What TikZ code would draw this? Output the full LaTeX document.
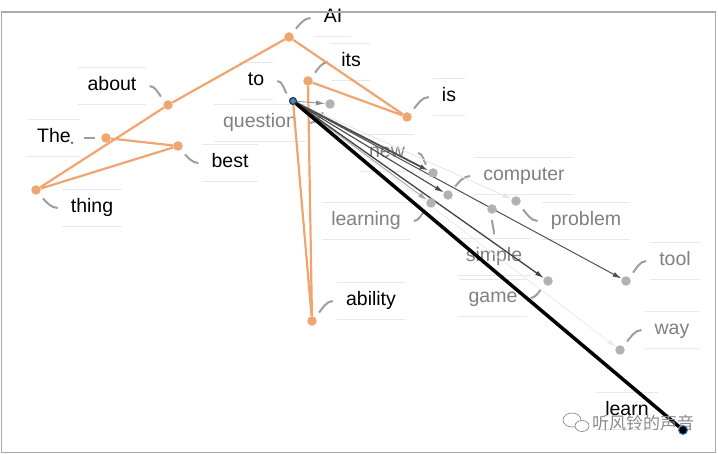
\documentclass[tikz,border=0pt]{standalone}
\usepackage{fontspec}
\setmainfont{Liberation Sans}
\newfontfamily\cjkfont{Noto Sans CJK SC}
\usepackage{tikz}
\usetikzlibrary{arrows.meta}
\definecolor{pathorange}{RGB}{240,165,112}
\definecolor{dotblue}{RGB}{66,133,190}
\pgfdeclarelayer{bg}
\pgfdeclarelayer{fg}
\pgfsetlayers{bg,main,fg}

\begin{document}
\begin{tikzpicture}[x=1pt,y=-1pt]
            \tikzstyle{word}=[circle,fill=pathorange,minimum size=9.5pt,inner sep=0pt]
            \tikzstyle{cand}=[circle,fill=black!30,minimum size=9.5pt,inner sep=0pt]
            \tikzstyle{rule}=[draw=black!9,line width=0.8pt]
            \tikzstyle{lbl}=[font=\fontsize{19.5}{22}\selectfont,inner xsep=9pt,inner ysep=0pt,
                text height=14pt,text depth=4pt,minimum height=37pt,
                append after command={(\tikzlastnode.north west) edge[rule] (\tikzlastnode.north east)
                                      (\tikzlastnode.south west) edge[rule] (\tikzlastnode.south east)}]
            \tikzstyle{lead}=[draw=black!38,line width=2pt,preaction={draw=white,line width=4.5pt},
                shorten <=6pt,shorten >=4pt]
            \tikzstyle{sentence}=[draw=pathorange,line width=2.2pt]

            \useasboundingbox (0,0) rectangle (718,454);
            \draw[black!33,line width=1.5pt] (1.5,12) rectangle (715.5,452.5);

            % points
            \begin{pgfonlayer}{fg}
            \foreach \n/\x/\y in {the/106/138, best/178/146, thing/36/190, about/168/105,
                                  ai/289/37, is/407/117, its/308/81, ability/312/321}
                    \node[word] (w-\n) at (\x,\y) {};
            \foreach \n/\x/\y in {question/330/104, new/433/173, computer/448/195, learning/431/203,
                                  simple/492/209, problem/516/201, game/548/281, tool/626/281, way/620/350}
                    \node[cand] (c-\n) at (\x,\y) {};
            \node[circle,fill=dotblue,draw=black!85,line width=1pt,minimum size=7pt,inner sep=0pt] (w-to) at (293,101) {};
            \node[circle,fill=black,draw=dotblue,line width=1pt,minimum size=9pt,inner sep=0pt] (w-learn) at (683,430) {};
            \node[circle,fill=dotblue,minimum size=3pt,inner sep=0pt] (dot) at (72,143) {};
            \end{pgfonlayer}

            % labels
            \begin{pgfonlayer}{bg}
            \foreach \n/\t/\x/\y in {ai/AI/333/18, its/its/351/62, is/is/449/97, about/about/112/86,
                                     the/The/54/138, best/best/230/163, thing/thing/92/208, to/to/256/81,
                                     ability/ability/371/301, learn/learn/627/411}
                    \node[lbl] (l-\n) at (\x,\y) {\t};
            \foreach \n/\t/\x/\y in {question/question/260/123, new/new/387/153, computer/computer/524/176,
                                     learning/learning/366/221, problem/problem/586/221, simple/simple/494/257,
                                     game/game/493/298, tool/tool/675/261, way/way/672/330}
                    \node[lbl,text=black!50] (l-\n) at (\x,\y) {\t};

            \foreach \p/\n/\a/\o/\i in {w/ai/west/50/180, w/its/west/50/180, w/is/west/50/180,
                                        w/ability/west/50/180, c/tool/west/50/180, c/way/west/50/180,
                                        c/computer/west/50/180, w/about/east/130/0, w/to/east/130/0,
                                        c/new/east/130/0, w/the/east/180/0, w/best/west/-50/180,
                                        w/thing/west/-50/180, c/problem/west/-50/180,
                                        c/question/east/-130/0, c/learning/east/-130/0,
                                        c/game/east/-130/0, c/simple/north/-90/90}
                    \draw[lead] (\p-\n) to[out=\o,in=\i] (l-\n.\a);
            \end{pgfonlayer}

            % sentence so far
            \draw[sentence] (w-the) -- (w-best) -- (w-thing) -- (w-about) -- (w-ai)
                -- (w-is) -- (w-its) -- (w-ability) -- (w-to);

            % next word candidates
            \foreach \t/\c/\w in {simple/black!8/0.6, way/black!8/0.8, problem/black!10/0.8,
                                  learning/black!35/0.9, question/black!45/0.8, tool/black!68/1.0,
                                  computer/black!72/1.1, game/black!75/1.3, new/black!70/1.8}
                    \draw[-{Latex[length=9pt,width=5pt]},draw=\c,line width=\w pt] (w-to) -- (c-\t);
            \draw[black,line width=3.5pt] (w-to) -- (w-learn);

            % watermark
            \draw[black!45,fill=white,line width=0.7pt] (572,420) ellipse (9 and 7);
            \draw[black!45,fill=white,line width=0.7pt] (582,426) ellipse (7 and 5.5);
            \node[font=\cjkfont\fontsize{17}{17}\selectfont,text=black!45] (mark) at (643,423) {听风铃的声音};
        \end{tikzpicture}
\end{document}
